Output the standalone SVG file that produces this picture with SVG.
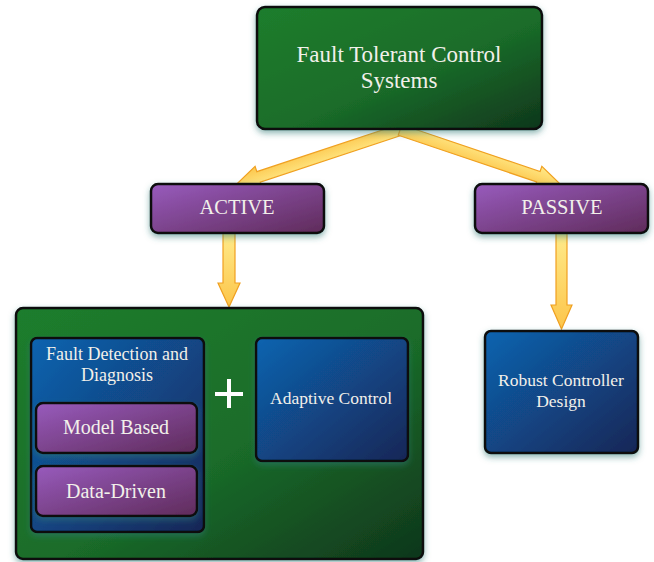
<svg xmlns="http://www.w3.org/2000/svg" width="654" height="562" viewBox="0 0 654 562">
<defs>
<linearGradient id="gGreen" x1="0" y1="0" x2="1" y2="1">
<stop offset="0" stop-color="#1f7d2d"/><stop offset="0.55" stop-color="#1a6c29"/><stop offset="1" stop-color="#0f361c"/>
</linearGradient>
<linearGradient id="gPurple" x1="0" y1="0" x2="1" y2="1">
<stop offset="0" stop-color="#985bbd"/><stop offset="1" stop-color="#5f2b5a"/>
</linearGradient>
<linearGradient id="gBlue" x1="0" y1="0" x2="1" y2="1">
<stop offset="0" stop-color="#0f64b0"/><stop offset="1" stop-color="#152656"/>
</linearGradient>
<linearGradient id="gArrow" x1="0" y1="0" x2="0" y2="1">
<stop offset="0" stop-color="#ffea8a"/><stop offset="1" stop-color="#fcc54a"/>
</linearGradient>
<filter id="sh" x="-20%" y="-20%" width="140%" height="150%">
<feDropShadow dx="0" dy="3" stdDeviation="3" flood-color="#2f7a74" flood-opacity="0.55"/>
</filter>
<style>
.box{stroke:#0a0a0a;stroke-width:2.5;filter:url(#sh)}
.green{fill:url(#gGreen)}
.purple{fill:url(#gPurple)}
.blue{fill:url(#gBlue)}
.t{font-family:"Liberation Serif","Times New Roman",serif;fill:#f2f0ea;text-anchor:middle}
.arrow{fill:url(#gArrow);stroke:#f0a020;stroke-width:1.2;stroke-linejoin:miter}
</style>
</defs>

<g id="connectors">
<g transform="translate(400,130) rotate(161.67)">
<polygon class="arrow" points="0,-5.5 149,-5.5 149,-11 172,0 149,11 149,5.5 0,5.5"/>
</g>
<g transform="translate(400,130) rotate(18.65)">
<polygon class="arrow" points="0,-5.5 146,-5.5 146,-11 169,0 146,11 146,5.5 0,5.5"/>
</g>
<polygon class="arrow" points="223,233 235,233 235,283 240,283 229,307 218,283 223,283"/>
<polygon class="arrow" points="556,233 567,233 567,305 572,305 561.5,329 551,305 556,305"/>
</g>

<g id="ftcs">
<rect class="box green" x="257" y="7" width="285" height="122" rx="8"/>
<text class="t" x="399" y="62" font-size="23">Fault Tolerant Control</text>
<text class="t" x="399" y="88" font-size="23">Systems</text>
</g>

<g id="active">
<rect class="box purple" x="151" y="184" width="173" height="49" rx="7"/>
<text class="t" x="237" y="214" font-size="20.5">ACTIVE</text>
</g>

<g id="passive">
<rect class="box purple" x="475" y="184" width="173" height="49" rx="7"/>
<text class="t" x="562" y="214" font-size="20.5">PASSIVE</text>
</g>

<g id="active-group">
<rect class="box green" x="16" y="308" width="407" height="251" rx="7"/>
</g>

<g id="fdd">
<rect class="box blue" x="31" y="338" width="173" height="194" rx="6"/>
<text class="t" x="117" y="360" font-size="18">Fault Detection and</text>
<text class="t" x="117" y="381" font-size="18">Diagnosis</text>
</g>

<g id="model-based">
<rect class="box purple" x="36" y="403" width="161" height="50" rx="7"/>
<text class="t" x="116" y="434" font-size="20">Model Based</text>
</g>

<g id="data-driven">
<rect class="box purple" x="36" y="466" width="161" height="50" rx="7"/>
<text class="t" x="116" y="498" font-size="20">Data-Driven</text>
</g>

<g id="plus">
<path d="M215,394 H243 M229,379 V408" stroke="#ffffff" stroke-width="4" fill="none"/>
</g>

<g id="adaptive">
<rect class="box blue" x="256" y="338" width="152" height="123" rx="6"/>
<text class="t" x="331" y="404" font-size="17.5">Adaptive Control</text>
</g>

<g id="robust">
<rect class="box blue" x="485" y="331" width="153" height="122" rx="6"/>
<text class="t" x="561" y="386" font-size="17.5">Robust Controller</text>
<text class="t" x="561" y="407" font-size="17.5">Design</text>
</g>
</svg>
